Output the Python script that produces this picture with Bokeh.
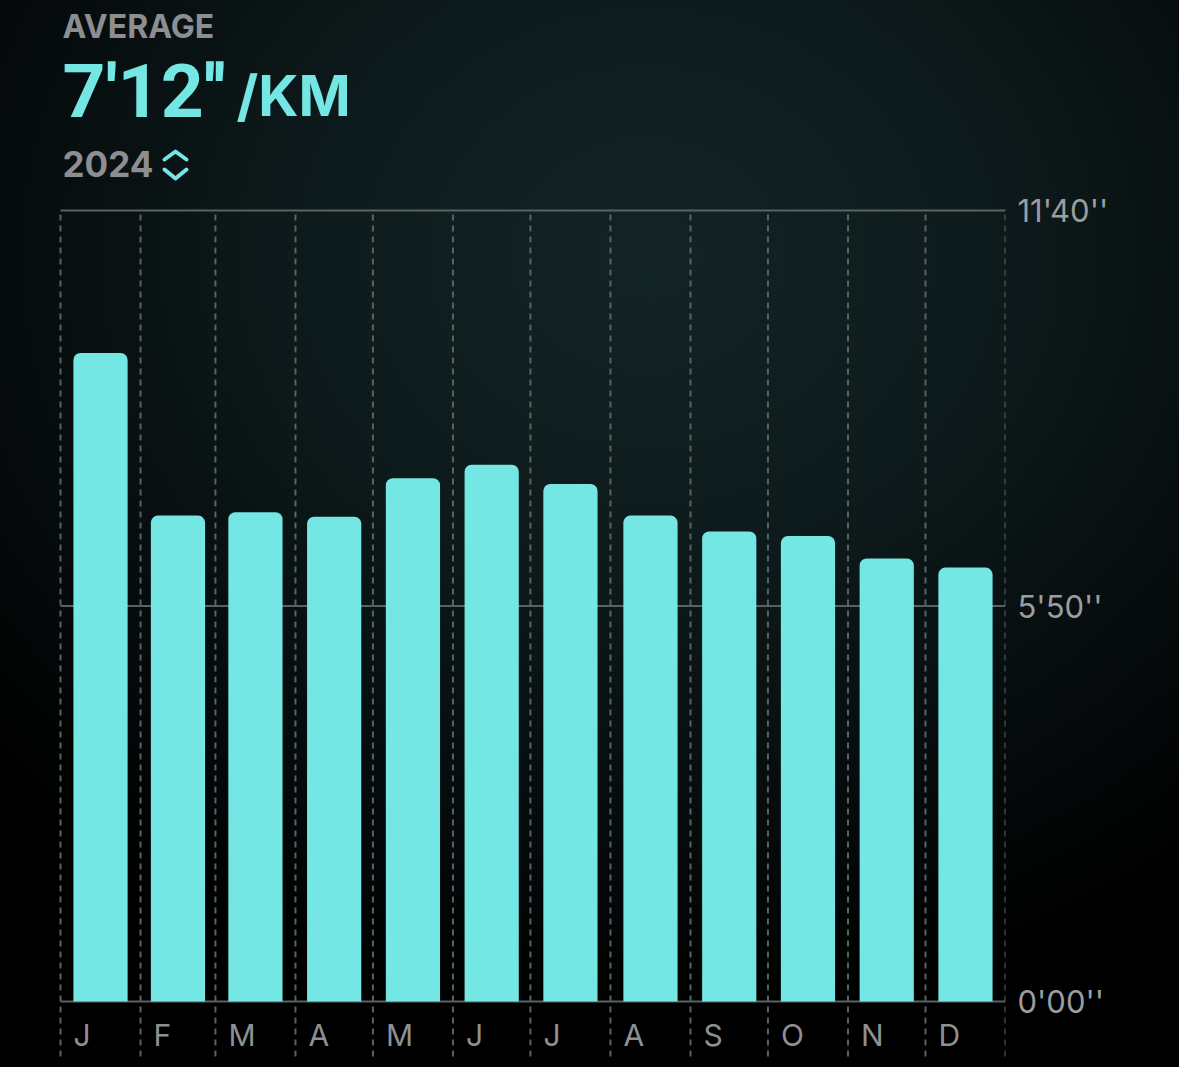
import numpy as np
from bokeh.plotting import figure
from bokeh.models import Range1d, FixedTicker, GlobalInlineStyleSheet
from bokeh.core.properties import value
from bokeh.embed import file_html
from bokeh.resources import INLINE

# ---- data ----
months = ["J", "F", "M", "A", "M", "J", "J", "A", "S", "O", "N", "D"]
days_in_month = [31, 29, 31, 30, 31, 30, 31, 31, 30, 31, 30, 31]
pace_seconds = [574, 430, 433, 429, 463, 475, 458, 430, 416, 412, 392, 384]
y_ticks = [0, 350, 700]
header_label = "AVERAGE"
average_label = "7'12''"
unit_label = "/KM"
period_label = "2024"


def fmt_pace(s):
    return f"{int(s) // 60}'{int(s) % 60:02d}''"


starts = np.concatenate([[0], np.cumsum(days_in_month)[:-1]])
bounds = np.concatenate([starts, [sum(days_in_month)]])
centers = starts + np.array(days_in_month) / 2.0
total_days = int(sum(days_in_month))
Y_MAX = y_ticks[-1]

# ---- layout (page pixel geometry) ----
PLOT_LEFT, PLOT_RIGHT = 60, 1005      # page x of first / last month boundary
PLOT_TOP, PLOT_BASE = 210, 1001       # page y of top tick / zero line
PAGE_TOP, PAGE_BOTTOM = 8, 1059
PX_DAY = (PLOT_RIGHT - PLOT_LEFT) / total_days
PX_UNIT = (PLOT_BASE - PLOT_TOP) / Y_MAX


def dx(px):
    return (px - PLOT_LEFT) / PX_DAY


def dy(py):
    return (PLOT_BASE - py) / PX_UNIT


CYAN = "#74e6e3"
GRID = "#586263"
GRAY = "#8e9193"
FONT = value("Inter")

p = figure(
    frame_width=PLOT_RIGHT - 8, frame_height=PAGE_BOTTOM - PAGE_TOP,
    x_range=Range1d(dx(8), total_days), y_range=Range1d(dy(PAGE_BOTTOM), dy(PAGE_TOP)),
    x_axis_location=None, y_axis_location="right",
    output_backend="svg", toolbar_location=None,
    min_border_left=0, min_border_right=166, min_border_top=0, min_border_bottom=0,
)
p.background_fill_alpha = 0
p.border_fill_alpha = 0
p.outline_line_color = None
p.xgrid.visible = False
p.ygrid.visible = False

# y axis on the right
ya = p.yaxis[0]
ya.ticker = FixedTicker(ticks=y_ticks)
ya.major_label_overrides = {t: fmt_pace(t) for t in y_ticks}
ya.axis_line_color = None
ya.major_tick_line_color = None
ya.minor_tick_line_color = None
ya.major_label_standoff = 6
ya.major_label_text_font = "Inter"
ya.major_label_text_font_size = "31px"
ya.major_label_text_color = "#9a9ea0"

# grid lines
p.segment(x0=0, x1=total_days, y0=y_ticks, y1=y_ticks, line_color=GRID, line_width=2)
p.segment(x0=bounds, x1=bounds, y0=dy(1056), y1=Y_MAX, line_color=GRID,
          line_width=2, line_dash="6 5")

# bars
p.vbar(x=centers, top=pace_seconds, bottom=0, width=21,
       fill_color=CYAN, line_color=None, border_radius=(7, 7, 0, 0))

# month labels
p.text(x=starts, y=0, text=months, x_offset=13, y_offset=33,
       text_font=FONT, text_font_size="30px", text_color=GRAY,
       text_align="left", text_baseline="middle")

# header
p.text(x=[dx(62)], y=[dy(26)], text=[header_label], text_font=FONT,
       text_font_size="32px", text_color="#8d8e92", text_font_style="bold",
       text_baseline="middle")
p.text(x=[dx(62)], y=[dy(90)], text=[average_label], text_font=value("Roboto"),
       text_font_size="75px", text_color=CYAN, text_font_style="bold",
       text_baseline="middle")
p.text(x=[dx(236)], y=[dy(95)], text=[unit_label], text_font=FONT,
       text_font_size="56px", text_color=CYAN, text_font_style="bold",
       text_baseline="middle")
p.text(x=[dx(62)], y=[dy(163)], text=[period_label], text_font=FONT,
       text_font_size="35px", text_color="#8d8e92", text_font_style="bold",
       text_baseline="middle")

# chevron icon (decorative)
chev_x = [dx(v) for v in (164, 175, 186)]
p.multi_line(xs=[chev_x, chev_x],
             ys=[[dy(v) for v in (159, 151, 159)], [dy(v) for v in (169, 178, 169)]],
             line_color=CYAN, line_width=4, line_join="round", line_cap="round")

p.stylesheets = [GlobalInlineStyleSheet(css=(
    "html,body{margin:0;padding:0;}"
    "body{margin:8px;min-height:1051px;"
    "background:radial-gradient(ellipse 75% 72% at 55% 24%, #132426 0%, #0d1a1b 40%, #070d0e 70%, #000 100%) fixed;}"
))]

open("out.html", "w").write(file_html(p, INLINE))
